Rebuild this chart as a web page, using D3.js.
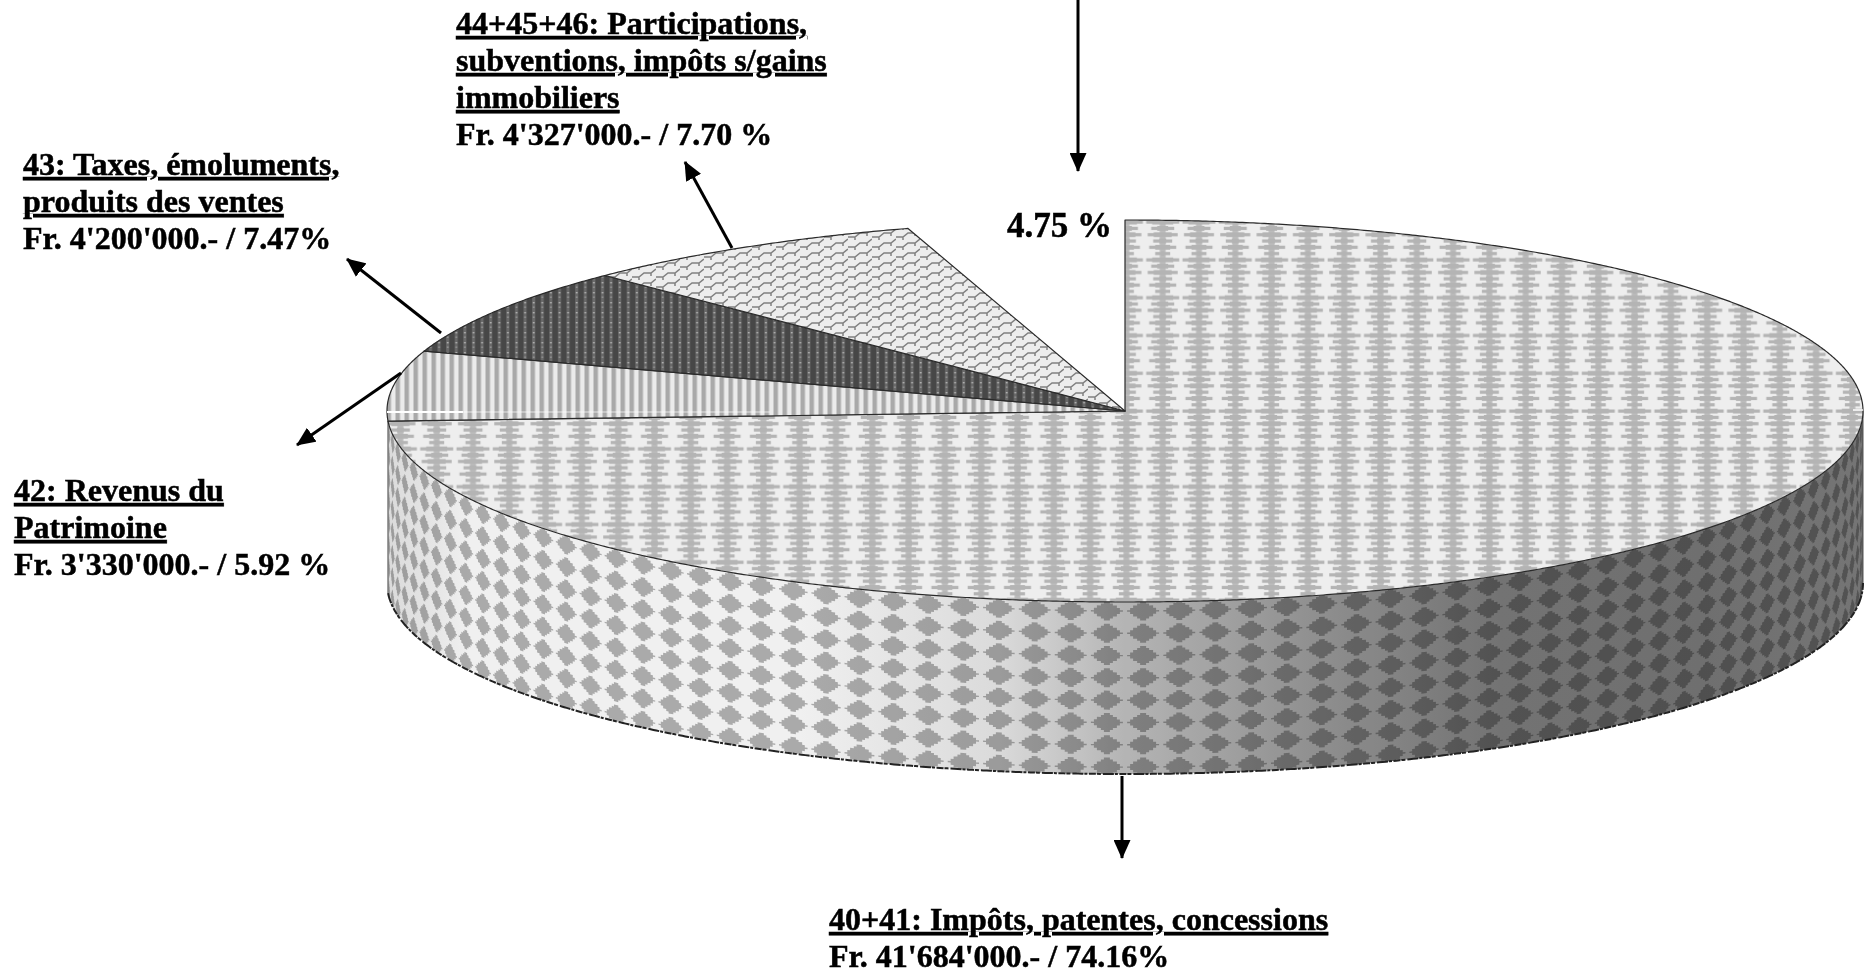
<!DOCTYPE html>
<html>
<head>
<meta charset="utf-8">
<script src="https://cdn.jsdelivr.net/npm/d3@7/dist/d3.min.js"></script>
<style>
html,body{margin:0;padding:0;background:#fff;overflow:hidden}
svg{display:block}
text{font-family:"Liberation Serif",serif;font-weight:700;fill:#000;stroke:#000;stroke-width:.5px}
.u{text-decoration:underline;text-decoration-thickness:3px;text-underline-offset:4px}
</style>
</head>
<body>
<svg id="c" width="1865" height="975"></svg>
<script>
// ---------- data ----------
const categories = ["40+41", "42", "43", "44+45+46", "47"];
const amounts = [41684000, 3330000, 4200000, 4327000, 2670000];
const percentLabels = ["74.16%", "5.92 %", "7.47%", "7.70 %", "4.75 %"];
const labelTitles = [
  ["40+41: Impôts, patentes, concessions"],
  ["42: Revenus du", "Patrimoine"],
  ["43: Taxes, émoluments,", "produits des ventes"],
  ["44+45+46: Participations,", "subventions, impôts s/gains", "immobiliers"],
  []
];
const labelAmounts = ["Fr. 41'684'000.-", "Fr. 3'330'000.-", "Fr. 4'200'000.-", "Fr. 4'327'000.-", ""];

// ---------- layout ----------
const W = 1865, H = 975;
const cx = 1125, cy = 411, rx = 738, ry = 191, depth = 172;
const FS = 32, LH = 37;
const sliceFills = ["url(#pTop)", "url(#pStripe)", "url(#pDark)", "url(#pBrick)", "none"];
const labelPos = [[829, 930], [14, 501], [23, 175], [456, 34], [1007, 237]];
const labelSizes = [FS, FS, FS, FS, 35];
const arrows = [
  [[1122, 776], [1122, 858]],
  [[401, 373], [297, 445]],
  [[441, 333], [347, 259]],
  [[732, 248], [685, 162]],
  [[1078, 0], [1078, 171]]
];

const svg = d3.select("#c");
const defs = svg.append("defs");

const X = d3.scaleLinear().domain([-1, 1]).range([cx - rx, cx + rx]);
const Y = d3.scaleLinear().domain([-1, 1]).range([cy - ry, cy + ry]);
const Z = d3.scaleLinear().domain([0, 1]).range([0, depth]);
const pt = (a, h = 0) => [X(Math.sin(a)), Y(-Math.cos(a)) + Z(h)];
const arcPts = (a0, a1, h = 0) => {
  const n = Math.max(2, Math.ceil(Math.abs(a1 - a0) / 0.005));
  return d3.range(n + 1).map(i => pt(a0 + (a1 - a0) * i / n, h));
};
const line = d3.line();

const pie = d3.pie().sort(null).value(d => d).startAngle(0).endAngle(2 * Math.PI);
const arcs = pie(amounts);

// ---------- patterns ----------
function pattern(id, w, h, ox, oy) {
  return defs.append("pattern").attr("id", id).attr("patternUnits", "userSpaceOnUse")
    .attr("width", w).attr("height", h)
    .attr("patternTransform", `translate(${ox},${oy})`);
}
// big slice: columns of jagged bars
{
  const tw = 36.3, rowH = 6.3, widths = [33, 23, 30, 19, 27, 15];
  const th = rowH * widths.length;
  const p = pattern("pTop", tw, th, 1199 - tw / 2, 219);
  p.append("rect").attr("width", tw).attr("height", th).attr("fill", "#eeeeee");
  p.append("rect").attr("x", tw / 2 - 3).attr("width", 6).attr("height", th).attr("fill", "#bcbcbc");
  widths.forEach((w, i) => {
    p.append("rect").attr("x", tw / 2 - w / 2).attr("y", i * rowH + 1.5).attr("width", w).attr("height", 3.2).attr("fill", "#b4b4b4");
    p.append("rect").attr("x", tw / 2 - w / 2 + 6).attr("y", i * rowH + .7).attr("width", Math.max(0, w - 12)).attr("height", 4.8).attr("fill", "#b4b4b4");
  });
}
// 42: vertical stripes
{
  const p = pattern("pStripe", 9, 9, 404.5, 0);
  p.append("rect").attr("width", 9).attr("height", 9).attr("fill", "#ebebeb");
  p.append("rect").attr("width", 4.5).attr("height", 9).attr("fill", "#a9a9a9");
}
// 43: dark with dotted columns
{
  const p = pattern("pDark", 8.6, 10, 640, 300);
  p.append("rect").attr("width", 8.6).attr("height", 10).attr("fill", "#474747");
  p.append("rect").attr("x", 4).attr("width", 3).attr("height", 10).attr("fill", "#6a6a6a");
  p.append("rect").attr("x", 4.6).attr("y", 2).attr("width", 1.8).attr("height", 1.4).attr("fill", "#b0b0b0");
  p.append("rect").attr("x", 4.6).attr("y", 6.5).attr("width", 1.8).attr("height", 1.4).attr("fill", "#949494");
}
// 44+45+46: brick weave
{
  const p = pattern("pBrick", 24, 10, 800, 250);
  p.append("rect").attr("width", 24).attr("height", 10).attr("fill", "#ededed");
  p.append("path").attr("fill", "none").attr("stroke", "#808080").attr("stroke-width", 1.5)
    .attr("d", "M0,7 L7,7 L12,3 L19,3 L24,-1 M0,17 L7,17 L12,13 L19,13 L24,9 M0,-3 L7,-3 L12,-7 M19,3 L19,6 M7,-3 L7,0 M7,7 L7,10");
}
// wall shading
{
  const g = defs.append("linearGradient").attr("id", "shade").attr("gradientUnits", "userSpaceOnUse")
    .attr("x1", X(-1)).attr("x2", X(1)).attr("y1", 0).attr("y2", 0);
  [[388, 232], [470, 255], [800, 255], [1000, 232], [1125, 192], [1300, 155], [1500, 122], [1700, 118], [1863, 124]]
    .forEach(([x, v]) => g.append("stop")
      .attr("offset", (x - X(-1)) / (X(1) - X(-1)))
      .attr("stop-color", d3.rgb(v, v, v)));
}

// ---------- wall ----------
const big = arcs[0];
const wallA0 = Math.PI / 2, wallA1 = big.endAngle;
const wallTop = arcPts(wallA0, wallA1, 0);
const wallBot = arcPts(wallA1, wallA0, 1);
const wallD = line(wallTop.concat(wallBot)) + "Z";
defs.append("clipPath").attr("id", "wallClip").append("path").attr("d", wallD);

const wall = svg.append("g");
wall.append("path").attr("d", wallD).attr("fill", "#f0f0f0");
const diamonds = wall.append("g").attr("clip-path", "url(#wallClip)").attr("fill", "#aaaaaa");
const colStep = 2 * Math.PI / 128, rowStep = 22.3;
const shape = [[-16, -.7], [-13, -.7], [-13, -3], [-10, -3], [-10, -5.5], [-6, -5.5], [-6, -7.5], [-3, -7.5], [-3, -9.5],
  [3, -9.5], [3, -7.5], [6, -7.5], [6, -5.5], [10, -5.5], [10, -3], [13, -3], [13, -.7], [16, -.7],
  [16, .7], [13, .7], [13, 3], [10, 3], [10, 5.5], [6, 5.5], [6, 7.5], [3, 7.5], [3, 9.5],
  [-3, 9.5], [-3, 7.5], [-6, 7.5], [-6, 5.5], [-10, 5.5], [-10, 3], [-13, 3], [-13, .7], [-16, .7]];
const cols = d3.range(-33, 33).map(k => Math.PI + (k + .5) * colStep);
const rows = d3.range(9).map(j => 9 + j * rowStep);
const cells = cols.flatMap(a => rows.map(h => ({ a, h })));
diamonds.selectAll("path").data(cells).join("path")
  .attr("d", d => line(shape.map(([dx, dy]) => {
    const p = pt(d.a + dx / rx);
    return [p[0], p[1] + d.h + dy];
  })) + "Z");
wall.append("path").attr("d", wallD).attr("fill", "url(#shade)").style("mix-blend-mode", "multiply");

// wall edges
svg.append("path").attr("d", line(arcPts(wallA0, wallA1, 1))).attr("fill", "none")
  .attr("stroke", "#222").attr("stroke-width", 2).attr("stroke-dasharray", "7 1.5 3 1 11 2 4 1");
svg.append("path").attr("d", line([pt(wallA1, 0), pt(wallA1, 1)])).attr("stroke", "#777").attr("stroke-width", 1.5);
svg.append("path").attr("d", line([pt(wallA0, 0), pt(wallA0, 1)])).attr("stroke", "#555").attr("stroke-width", 1);

// ---------- top slices ----------
const sliceD = d => line([[X(0), Y(0)]].concat(arcPts(d.startAngle, d.endAngle))) + "Z";
svg.append("g").selectAll("path").data(arcs.filter((d, i) => sliceFills[i] !== "none")).join("path")
  .attr("d", sliceD)
  .attr("fill", d => sliceFills[d.index])
  .attr("stroke", "#2a2a2a").attr("stroke-width", 1.2).attr("stroke-linejoin", "round");

// scan artefact: thin white line crossing the left and right rim
svg.append("path").attr("d", line([[X(-1), cy + 1], [463, cy + 1]])).attr("stroke", "#fff").attr("stroke-width", 2);
svg.append("path").attr("d", line([[463, cy + 1], [770, cy + 1]])).attr("stroke", "#fff").attr("stroke-width", 1.5).attr("opacity", .45);
svg.append("path").attr("d", line([[1853, cy - 1], [X(1), cy - 1]])).attr("stroke", "#fff").attr("stroke-width", 1.5);

// ---------- arrows ----------
defs.append("marker").attr("id", "head").attr("markerUnits", "userSpaceOnUse")
  .attr("viewBox", "0 0 19 17").attr("refX", 18).attr("refY", 8.5)
  .attr("markerWidth", 19).attr("markerHeight", 17).attr("orient", "auto")
  .append("path").attr("d", "M0,0 L19,8.5 L0,17 Z").attr("fill", "#000");
svg.append("g").selectAll("path").data(arrows).join("path")
  .attr("d", d => line(d)).attr("stroke", "#000").attr("stroke-width", 3).attr("fill", "none")
  .attr("marker-end", "url(#head)");

// ---------- labels ----------
const labels = svg.append("g");
categories.forEach((c, i) => {
  const [lx, ly] = labelPos[i];
  const titleLines = labelTitles[i];
  titleLines.forEach((t, j) => {
    labels.append("text").attr("class", "u").attr("font-size", labelSizes[i]).attr("x", lx).attr("y", ly + j * LH).text(t);
  });
  const amt = labelAmounts[i] ? labelAmounts[i] + " / " + percentLabels[i] : percentLabels[i];
  labels.append("text").attr("font-size", labelSizes[i]).attr("x", lx).attr("y", ly + titleLines.length * LH).text(amt);
});
</script>
</body>
</html>
